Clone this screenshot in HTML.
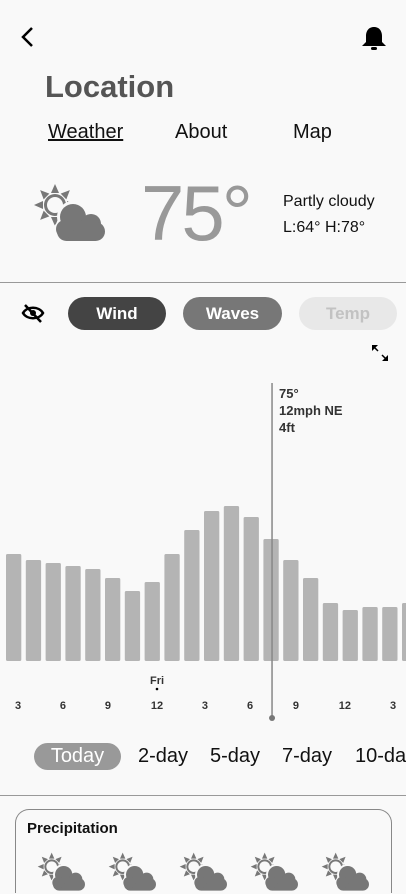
<!DOCTYPE html>
<html style="width:406px;height:894px;overflow:hidden"><head><meta charset="utf-8"><style>
*{margin:0;padding:0;box-sizing:border-box}
body{width:406px;height:894px;overflow:hidden;background:#f9f9f9;font-family:"Liberation Sans",sans-serif;position:relative}
.a{position:absolute;white-space:nowrap}
.pill{position:absolute;height:33px;border-radius:17px;text-align:center;line-height:33px;font-size:17px;font-weight:bold;color:#fff;white-space:nowrap}
.tab{position:absolute;top:743px;font-size:20px;line-height:27px;color:#111;white-space:nowrap}
</style></head><body>
<svg class="a" style="left:18px;top:24px" width="20" height="26" viewBox="0 0 20 26"><path d="M14 4 L5 13 L14 22" fill="none" stroke="#000" stroke-width="2.5"/></svg>
<svg class="a" style="left:360px;top:24px" width="28" height="28" viewBox="0 0 28 28"><path d="M14 3 C8 3 6 8 6 12 L6 18 L2 22 L26 22 L22 18 L22 12 C22 8 20 3 14 3Z" fill="#000"/><rect x="11" y="23" width="6" height="3" rx="1.5" fill="#000"/></svg>
<div class="a" style="left:45px;top:69px;font-size:31px;font-weight:bold;color:#555">Location</div>
<div class="a" style="left:48px;top:121px;font-size:20px;color:#111;text-decoration:underline">Weather</div>
<div class="a" style="left:175px;top:121px;font-size:20px;color:#111">About</div>
<div class="a" style="left:293px;top:121px;font-size:20px;color:#111">Map</div>
<div id="bigicon" class="a" style="left:33px;top:183px"></div>
<div class="a" style="left:141px;top:170px;font-size:78px;line-height:86px;color:#999;letter-spacing:-3px">75°</div>
<div class="a" style="left:283px;top:193px;font-size:16px;color:#111">Partly cloudy</div>
<div class="a" style="left:283px;top:219px;font-size:16px;color:#111">L:64° H:78°</div>
<div class="a" style="left:0;top:282px;width:406px;height:1px;background:#999"></div>
<svg class="a" style="left:21px;top:303px" width="24" height="20" viewBox="0 0 24 20"><path d="M2 10 C6 3 18 3 22 10 C18 17 6 17 2 10Z" fill="none" stroke="#000" stroke-width="2.5"/><circle cx="12" cy="10" r="3" fill="#000"/><line x1="4" y1="2" x2="20" y2="19" stroke="#000" stroke-width="2.5"/></svg>
<div class="pill" style="left:68px;top:297px;width:98px;background:#444">Wind</div>
<div class="pill" style="left:183px;top:297px;width:99px;background:#777">Waves</div>
<div class="pill" style="left:299px;top:297px;width:98px;background:#e8e8e8;color:#c2c2c2">Temp</div>
<svg class="a" style="left:370px;top:343px" width="20" height="20" viewBox="0 0 20 20"><path d="M2 2 L8 2 L2 8Z M18 18 L12 18 L18 12Z" fill="#000"/><line x1="3" y1="3" x2="8" y2="8" stroke="#000" stroke-width="1.5"/><line x1="17" y1="17" x2="12" y2="12" stroke="#000" stroke-width="1.5"/></svg>
<svg id="chart" class="a" style="left:0;top:370px" width="406" height="360"></svg>
<div class="pill" style="left:34px;top:743px;width:87px;height:27px;line-height:27px;background:#999;font-weight:normal;font-size:20px">Today</div>
<div class="tab" style="left:138px">2-day</div>
<div class="tab" style="left:210px">5-day</div>
<div class="tab" style="left:282px">7-day</div>
<div class="tab" style="left:355px">10-day</div>
<div class="a" style="left:0;top:795px;width:406px;height:1px;background:#999"></div>
<div class="a" style="left:15px;top:809px;width:377px;height:84px;border:1px solid #888;border-bottom:none;border-radius:14px 14px 0 0"></div>
<div class="a" style="left:27px;top:820px;font-size:15px;font-weight:bold;color:#111">Precipitation</div>
<div id="smallicons"></div>
<script>
function icon(w){
  let rays='';
  for(let k=0;k<8;k++){const a=k*Math.PI/4;const c=Math.cos(a),s=Math.sin(a),pc=Math.cos(a+Math.PI/2),ps=Math.sin(a+Math.PI/2);
    rays+='<polygon points="'+(22+c*21)+','+(22+s*21)+' '+(22+c*12+pc*4)+','+(22+s*12+ps*4)+' '+(22+c*12-pc*4)+','+(22+s*12-ps*4)+'"/>';}
  return '<svg width="'+w+'" height="'+(w*58/72)+'" viewBox="0 0 72 58">'+
  '<g fill="#777">'+rays+'</g>'+
  '<circle cx="22" cy="22" r="11" fill="#777"/><circle cx="22" cy="22" r="8" fill="#f9f9f9"/>'+
  '<g fill="#f9f9f9"><circle cx="40" cy="34" r="16"/><rect x="20" y="38" width="52" height="20" rx="10"/></g>'+
  '<g fill="#777"><circle cx="40" cy="34" r="13"/><circle cx="58" cy="41" r="10"/><rect x="24" y="39" width="48" height="19" rx="9.5"/><circle cx="32" cy="46" r="9"/></g></svg>';
}
document.getElementById('bigicon').innerHTML=icon(72);
const sx=[37,108,179,250,321];
const si=document.getElementById('smallicons');
sx.forEach((x,i)=>{const d=document.createElement('div');d.className='a';d.style.left=x+'px';d.style.top='852px';d.innerHTML=icon(48);


si.appendChild(d);});

// chart data
const windValues=[107,101,98,95,92,83,70,79,107,131,150,155,144,122,101,83,58,51,54,54,58];
const tickLabels=['3','6','9','12','3','6','9','12','3'];
const tickPositions=[0.22,2.49,4.76,7.24,9.66,11.94,14.26,16.73,19.16];
const dayLabel='Fri';
const dayIndex=7.24;
const cursorIndex=13.05;
const tooltipLines=['75°','12mph NE','4ft'];

const svg=document.getElementById('chart');
const NS='http://www.w3.org/2000/svg';
const x0=6,pitch=19.8,bw=15.3,baseY=291,scale=1;
const xPos=i=>x0+i*pitch;
const yPos=v=>baseY-v*scale;
function el(t,a){const e=document.createElementNS(NS,t);for(const k in a)e.setAttribute(k,a[k]);svg.appendChild(e);return e;}
windValues.forEach((v,i)=>{
  const r=el('rect',{x:xPos(i),y:yPos(v),width:bw,height:v,rx:1.5,fill:'#b4b4b4'});
  
  
});
tickLabels.forEach((t,i)=>{
  const tx=el('text',{x:xPos(tickPositions[i])+bw/2,y:339,'text-anchor':'middle','font-size':11,'font-weight':'bold',fill:'#333','font-family':'Liberation Sans'});
  tx.textContent=t;
  
  
});
const dl=el('text',{x:xPos(dayIndex)+bw/2,y:314,'text-anchor':'middle','font-size':11,'font-weight':'bold',fill:'#333','font-family':'Liberation Sans'});
dl.textContent=dayLabel;


const dd=el('circle',{cx:xPos(dayIndex)+bw/2,cy:319,r:1.3,fill:'#000'});


const cx=xPos(cursorIndex)+bw/2;
const cl=el('line',{x1:cx,y1:13,x2:cx,y2:348,stroke:'#888','stroke-width':1.5});


const ch=el('circle',{cx:cx,cy:348,r:3,fill:'#777'});


tooltipLines.forEach((t,i)=>{
  const tt=el('text',{x:cx+7,y:28+i*17,'font-size':13,'font-weight':'bold',fill:'#333','font-family':'Liberation Sans'});
  tt.textContent=t;
  
  
});
</script>
</body></html>
